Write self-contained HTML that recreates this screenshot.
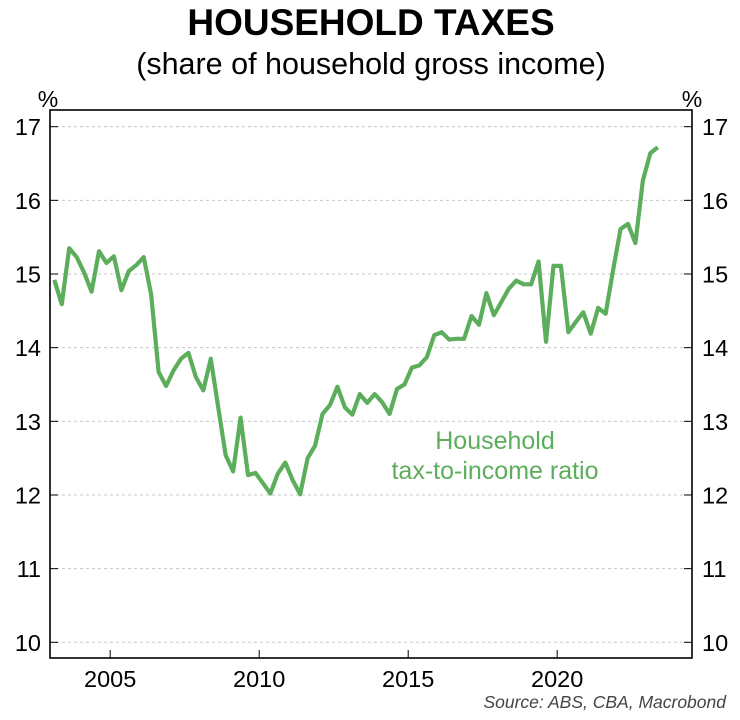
<!DOCTYPE html>
<html><head><meta charset="utf-8"><style>
html,body{margin:0;padding:0;background:#fff;}
svg{display:block;font-family:"Liberation Sans",Arial,sans-serif;}
</style></head><body>
<svg id="chart" width="740" height="720" viewBox="0 0 740 720">
<text x="371" y="35" text-anchor="middle" font-size="37" font-weight="bold" fill="#000">HOUSEHOLD TAXES</text>
<text x="371" y="74" text-anchor="middle" font-size="30.5" fill="#000">(share of household gross income)</text>
<text x="48" y="107" text-anchor="middle" font-size="23" fill="#000">%</text>
<text x="692" y="107" text-anchor="middle" font-size="23" fill="#000">%</text>
<g id="grid"></g>
<g id="yl"></g>
<g id="yr"></g>
<g id="xa"></g>
<path id="line" fill="none" stroke="#5cae5c" stroke-width="4.2" stroke-linejoin="round"></path>
<rect x="50" y="110" width="642" height="548" fill="none" stroke="#000" stroke-width="1.6"></rect>
<text x="495" y="449" text-anchor="middle" font-size="25" fill="#5cae5c">Household</text>
<text x="495" y="479" text-anchor="middle" font-size="25" fill="#5cae5c">tax-to-income ratio</text>
<text x="726" y="708" text-anchor="end" font-size="17.5" font-style="italic" fill="#444">Source: ABS, CBA, Macrobond</text>
</svg>
<script>
const startYear = 2003.125;
const values = [14.92,14.59,15.35,15.23,15.02,14.76,15.31,15.15,15.24,14.78,15.04,15.12,15.23,14.72,13.67,13.48,13.69,13.85,13.93,13.60,13.42,13.85,13.19,12.54,12.32,13.05,12.27,12.30,12.16,12.02,12.29,12.44,12.20,12.01,12.50,12.67,13.10,13.22,13.47,13.19,13.09,13.37,13.25,13.37,13.26,13.10,13.44,13.50,13.73,13.76,13.87,14.17,14.21,14.11,14.12,14.12,14.43,14.31,14.74,14.44,14.62,14.80,14.91,14.86,14.86,15.17,14.08,15.11,15.11,14.21,14.35,14.48,14.19,14.54,14.46,15.05,15.61,15.68,15.42,16.27,16.64,16.72];
const yTicks = [10,11,12,13,14,15,16,17];
const xTicks = [2005,2010,2015,2020];
const NS="http://www.w3.org/2000/svg";
function xs(t){return 50+(t-2002.98)*29.8;}
function ys(v){return 642.3-(v-10)*73.66;}
function mk(tag,attrs,parent,text){const e=document.createElementNS(NS,tag);for(const k in attrs)e.setAttribute(k,attrs[k]);if(text!==undefined)e.textContent=text;parent.appendChild(e);return e;}
const grid=document.getElementById('grid'),yl=document.getElementById('yl'),yr=document.getElementById('yr'),xa=document.getElementById('xa');
yTicks.forEach(v=>{const y=ys(v);
 const g=mk('line',{x1:50,x2:692,y1:y,y2:y,stroke:'#c8c8c8','stroke-width':1,'stroke-dasharray':'3,3'},grid);
 
 
 mk('line',{x1:50,x2:58,y1:y,y2:y,stroke:'#000','stroke-width':1},yl);
 mk('line',{x1:684,x2:692,y1:y,y2:y,stroke:'#000','stroke-width':1},yr);
 const a=mk('text',{x:41,y:y+8.5,'text-anchor':'end','font-size':23.5,fill:'#000'},yl,String(v));
 
 
 const b=mk('text',{x:702,y:y+8.5,'text-anchor':'start','font-size':23.5,fill:'#000'},yr,String(v));
 
 
});
xTicks.forEach(t=>{const x=xs(t);
 mk('line',{x1:x,x2:x,y1:650,y2:658,stroke:'#000','stroke-width':1},xa);
 const l=mk('text',{x:x,y:687,'text-anchor':'middle','font-size':23.5,fill:'#000'},xa,String(t));
 
 
});
let d='';
values.forEach((v,i)=>{const x=xs(startYear+0.25*i),y=ys(v);d+=(i?'L':'M')+x.toFixed(2)+','+y.toFixed(2);});
document.getElementById('line').setAttribute('d',d);
</script>
</body></html>
